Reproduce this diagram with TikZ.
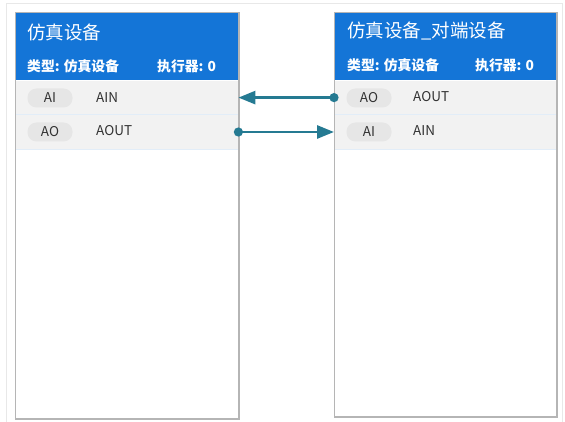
\documentclass[tikz,border=0pt]{standalone}
\usepackage{fontspec}
\setmainfont{Noto Sans CJK SC}
\usepackage{tikz}
\usetikzlibrary{arrows.meta,positioning}
\definecolor{hdblue}{HTML}{1475D7}
\definecolor{rowgray}{HTML}{F2F2F2}
\definecolor{pillgray}{HTML}{E6E6E6}
\definecolor{sepblue}{HTML}{E2EDF8}
\definecolor{boxgray}{HTML}{B5B5B5}
\definecolor{linkteal}{HTML}{257A92}
\definecolor{txtgray}{HTML}{333333}

\tikzset{
    devbox/.style={draw=boxgray, line width=1pt, fill=white, anchor=north west, inner sep=0},
    header/.style={fill=hdblue, anchor=north west, inner sep=0, minimum height=67},
    portrow/.style={fill=rowgray, anchor=north west, inner sep=0, minimum height=34},
    pill/.style={fill=pillgray, rounded corners=9pt, minimum width=45, minimum height=19, inner sep=0, text=txtgray, font=\fontsize{13.5}{13.5}\selectfont},
    portname/.style={anchor=west, inner sep=0, text=txtgray, font=\fontsize{13.5}{13.5}\selectfont},
    title/.style={anchor=west, inner sep=0, text=white, font=\fontsize{18.5}{18.5}\selectfont},
    subtitle/.style={anchor=west, inner sep=0, text=white, font=\bfseries\fontsize{13.8}{13.8}\selectfont},
    link/.style={draw=linkteal, line width=2.8pt, {Circle[length=9pt]}-{Triangle[length=17pt,width=13pt]}, shorten <=-4.5pt}
}

\begin{document}
\begin{tikzpicture}[x=1pt, y=-1pt]
    \useasboundingbox (0,0) rectangle (565,422);
    % outer frame
    \draw[black!9, line width=1pt] (6,422) -- (6,4) -- (562,4) -- (562,422);

    % left device
    \node[devbox, minimum width=223, minimum height=405] (dev) at (15,13) {};
    \node[header, minimum width=223] (dev-hd) at (dev.north west) {};
    \node[portrow, minimum width=223] (dev-r1) at (dev-hd.south west) {};
    \node[portrow, minimum width=223] (dev-r2) at (dev-r1.south west) {};
    \draw[sepblue, line width=1pt] (dev-r1.south west) -- (dev-r1.south east);
    \draw[sepblue, line width=1pt] (dev-r2.south west) -- (dev-r2.south east);
    \draw[boxgray, line width=1pt] (dev.north west) rectangle (dev.south east);
    \node[title] (dev-title) at (27,32) {仿真设备};
    \node[subtitle] (dev-type) at (27,66) {类型: 仿真设备};
    \node[subtitle] (dev-exec) at (157,66) {执行器: 0};
    \node[pill] (dev-ai) at (50,98) {AI};
    \node[portname] (dev-ain) at (96,98) {AIN};
    \node[pill] (dev-ao) at (50,132) {AO};
    \node[portname] (dev-aout) at (96,131) {AOUT};

    % right device
    \node[devbox, minimum width=222, minimum height=403] (peer) at (334,13) {};
    \node[header, minimum width=222] (peer-hd) at (peer.north west) {};
    \node[portrow, minimum width=222] (peer-r1) at (peer-hd.south west) {};
    \node[portrow, minimum width=222] (peer-r2) at (peer-r1.south west) {};
    \draw[sepblue, line width=1pt] (peer-r1.south west) -- (peer-r1.south east);
    \draw[sepblue, line width=1pt] (peer-r2.south west) -- (peer-r2.south east);
    \draw[boxgray, line width=1pt] (peer.north west) rectangle (peer.south east);
    \node[title] (peer-title) at (347,31) {仿真设备\_对端设备};
    \node[subtitle] (peer-type) at (347,65) {类型: 仿真设备};
    \node[subtitle] (peer-exec) at (475,65) {执行器: 0};
    \node[pill] (peer-ao) at (369,98) {AO};
    \node[portname] (peer-aout) at (413,97) {AOUT};
    \node[pill] (peer-ai) at (369,132) {AI};
    \node[portname] (peer-ain) at (413,131) {AIN};

    % links
    \draw[link] (peer-r1.west) -- (dev-r1.east);
    \draw[link] (dev-r2.east) -- (peer-r2.west);
\end{tikzpicture}
\end{document}
